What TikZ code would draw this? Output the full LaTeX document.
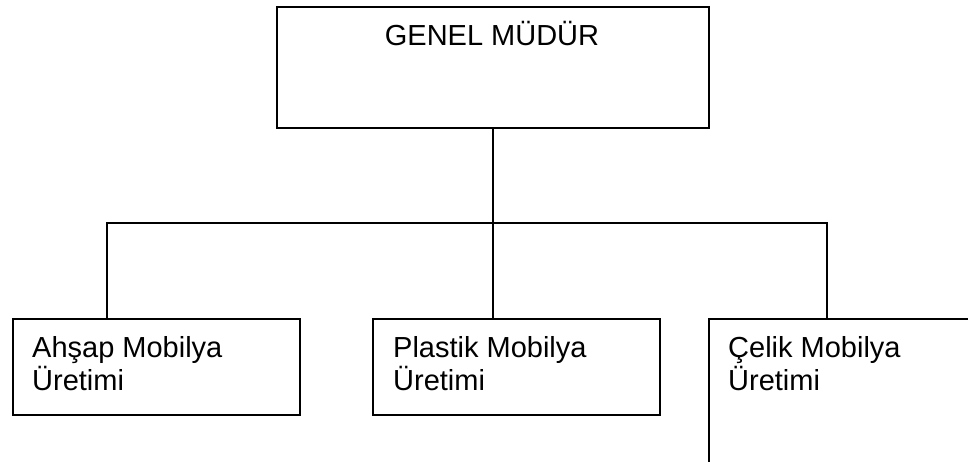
\documentclass[tikz,border=0pt]{standalone}
\usepackage{fontspec}
\setmainfont{Liberation Sans}
\begin{document}
\begin{tikzpicture}[x=1pt,y=-1pt,
  box/.style={draw=black, line width=1.8pt, rectangle, inner sep=0pt, anchor=north west},
  conn/.style={draw=black, line width=1.8pt},
  lbl/.style={anchor=base west, inner sep=0pt, align=left, font=\fontsize{29}{33}\selectfont}]
\clip (0,0) rectangle (968,461);
\fill[white] (0,0) rectangle (968,461);
% boxes
\node[box, minimum width=432pt, minimum height=121pt] (top) at (276,6) {};
\node[box, minimum width=287pt, minimum height=96pt] (b1) at (12,318) {};
\node[box, minimum width=287pt, minimum height=96pt] (b2) at (372,318) {};
\node[box, minimum width=287pt, minimum height=200pt] (b3) at (708,318) {};
% texts (base anchor = baseline of last line)
\node[lbl, anchor=base] (ttop) at (492,45) {GENEL MÜDÜR};
\node[lbl] (t1) at (32,390) {Ahşap Mobilya\\Üretimi};
\node[lbl] (t2) at (393,390) {Plastik Mobilya\\Üretimi};
\node[lbl] (t3) at (728,390) {Çelik Mobilya\\Üretimi};
% connectors
\coordinate (h1) at (107,223);
\coordinate (h3) at (827,223);
\coordinate (c1) at (107,318);
\coordinate (c3) at (827,318);
\draw[conn] (top.south) -- (b2.north -| top.south);
\draw[conn] (c1) -- (h1) -- (h3) -- (c3);
\end{tikzpicture}
\end{document}
